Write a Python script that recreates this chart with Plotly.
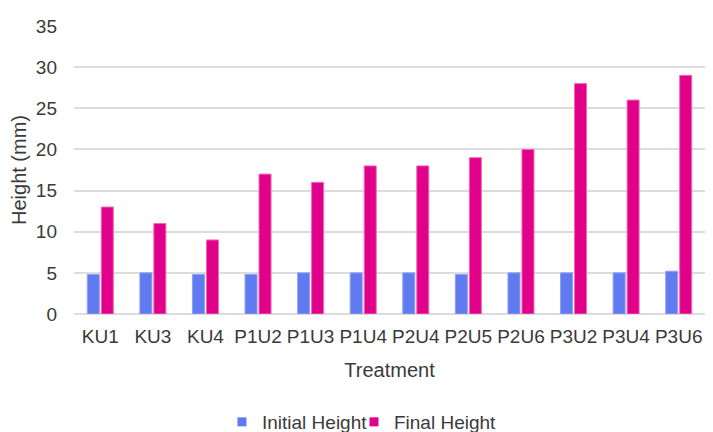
import plotly.graph_objects as go

treatments = ["KU1", "KU3", "KU4", "P1U2", "P1U3", "P1U4", "P2U4", "P2U5", "P2U6", "P3U2", "P3U4", "P3U6"]
initial_height = [4.8, 5.0, 4.8, 4.8, 5.0, 5.0, 5.0, 4.8, 5.0, 5.0, 5.0, 5.2]
final_height = [13, 11, 9, 17, 16, 18, 18, 19, 20, 28, 26, 29]
y_ticks = [0, 5, 10, 15, 20, 25, 30, 35]
series_names = ["Initial Height", "Final Height"]
series_colors = ["#5f7bef", "#e0008a"]
series_edges = ["#8ea0f5", "#f06ab5"]

font_family = "Liberation Sans, Arial, sans-serif"
text_color = "#3a3a3a"

fig = go.Figure()
for name, vals, col, edge in zip(series_names, [initial_height, final_height], series_colors, series_edges):
    fig.add_trace(go.Bar(
        x=treatments, y=vals, name=name, showlegend=False, legendgroup=name,
        marker=dict(color=col, line=dict(color=edge, width=1)),
    ))
# legend entries with small square swatches (one legend per series for exact placement)
for name, col, lg in zip(series_names, series_colors, ["legend", "legend2"]):
    fig.add_trace(go.Scatter(
        x=[None], y=[None], mode="markers", name=name, legendgroup=name, legend=lg,
        marker=dict(symbol="square", size=9, color=col),
    ))

legend_style = dict(orientation="h", xanchor="left", y=-0.375, yanchor="middle",
                    font=dict(size=19, color=text_color), itemwidth=30,
                    bgcolor="rgba(0,0,0,0)")

fig.update_layout(
    width=697, height=440,
    margin=dict(l=66, r=0, t=18, b=134, autoexpand=False),
    plot_bgcolor="white", paper_bgcolor="white",
    barmode="group", bargap=0.468, bargroupgap=0.14,
    font=dict(family=font_family, size=19, color=text_color),
    showlegend=True,
    legend=dict(x=0.2345, **legend_style),
    legend2=dict(x=0.4437, **legend_style),
    xaxis=dict(
        title=dict(text="Treatment", font=dict(size=20, color=text_color), standoff=16),
        tickfont=dict(size=19, color=text_color),
        showgrid=False, showline=False, ticks="", tickangle=0, ticklabelstandoff=9,
    ),
    yaxis=dict(
        title=dict(text="Height (mm)", font=dict(size=20, color=text_color), standoff=8),
        range=[0, 35], tickvals=y_ticks,
        tickfont=dict(size=19, color=text_color),
        showgrid=True, gridcolor="#dcdcdc", gridwidth=1.5,
        zeroline=True, zerolinecolor="#dcdcdc", zerolinewidth=1.5,
        showline=False, ticks="", ticklabelstandoff=16,
    ),
)

fig.write_html("out.html")
